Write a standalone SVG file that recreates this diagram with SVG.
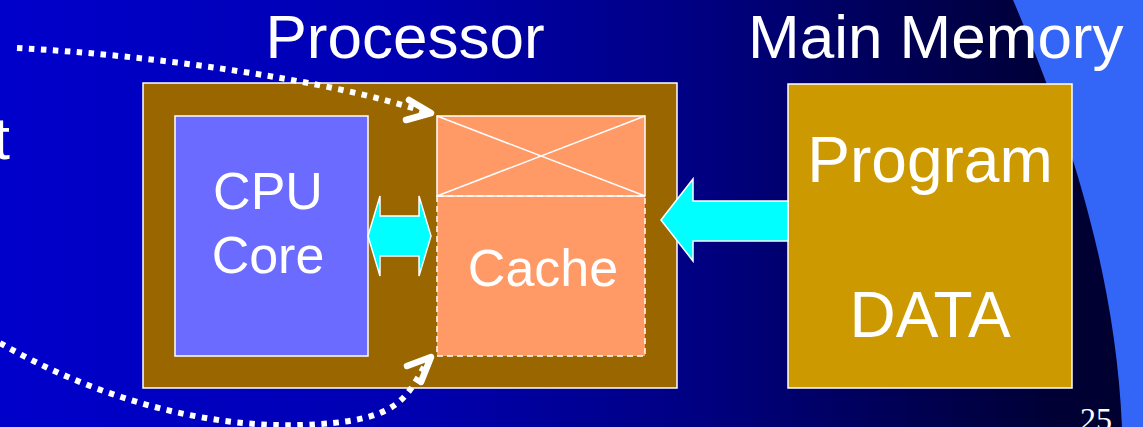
<svg xmlns="http://www.w3.org/2000/svg" width="1143" height="427" viewBox="0 0 1143 427">
  <defs>
    <linearGradient id="bg" x1="0" y1="0" x2="1143" y2="0" gradientUnits="userSpaceOnUse">
      <stop offset="0" stop-color="#0000cc"/>
      <stop offset="0.35" stop-color="#0000b2"/>
      <stop offset="0.62" stop-color="#000080"/>
      <stop offset="0.8" stop-color="#000052"/>
      <stop offset="0.92" stop-color="#000036"/>
      <stop offset="1" stop-color="#00002e"/>
    </linearGradient>
    <style>
      text { font-family: "Liberation Sans", Arial, sans-serif; fill: #ffffff; }
      .box { stroke: #ffffff; stroke-width: 1.5; }
      .dots { fill: none; stroke: #ffffff; stroke-width: 6; stroke-dasharray: 5.5 6.5; }
      .head { fill: none; stroke: #ffffff; stroke-width: 6.5; stroke-linecap: round; stroke-linejoin: round; }
      .flow { fill: #00ffff; stroke: #ffffff; stroke-width: 1.5; }
    </style>
  </defs>

  <rect x="0" y="0" width="1143" height="427" fill="url(#bg)"/>
  <path d="M1013,0 C1060,110 1115,260 1122,427 L1143,427 L1143,0 Z" fill="#3366f6"/>

  <text x="10" y="159" font-size="60" text-anchor="end">t</text>
  <text x="1080" y="430" font-size="32" style="font-family:'Liberation Serif','Times New Roman',serif">25</text>

  <g id="processor">
    <rect class="box" x="143" y="83" width="534" height="305" fill="#996600"/>
    <text x="405" y="58" font-size="62" text-anchor="middle">Processor</text>
  </g>

  <g id="cpu-core">
    <rect class="box" x="175" y="116" width="193" height="240" fill="#6b6bff"/>
    <text x="268" y="209" font-size="52" text-anchor="middle">CPU</text>
    <text x="268" y="273" font-size="52" text-anchor="middle">Core</text>
  </g>

  <g id="cache">
    <rect x="437" y="116" width="208" height="240" fill="#ff9966"/>
    <rect class="box" x="437" y="116" width="208" height="80" fill="none"/>
    <line x1="437" y1="116" x2="645" y2="196" stroke="#ffffff" stroke-width="1.5"/>
    <line x1="645" y1="116" x2="437" y2="196" stroke="#ffffff" stroke-width="1.5"/>
    <rect x="437" y="196" width="208" height="160" fill="none" stroke="#ffffff" stroke-width="1.5" stroke-dasharray="6 4"/>
    <text x="543" y="286" font-size="52" text-anchor="middle">Cache</text>
  </g>

  <g id="main-memory">
    <rect class="box" x="788" y="84" width="284" height="304" fill="#cc9900"/>
    <text x="748" y="58" font-size="62">Main Memory</text>
    <text x="930" y="182" font-size="64" text-anchor="middle">Program</text>
    <text x="930" y="337" font-size="64" text-anchor="middle">DATA</text>
  </g>

  <g id="connectors">
    <polygon class="flow" points="368,236 380,196 380,216 419,216 419,196 431,236 419,276 419,256 380,256 380,276"/>
    <polygon class="flow" points="661,220 693,179 693,201 788,201 788,241 693,241 693,261"/>
    <path class="dots" d="M17,48 C150,55 330,80 425,112"/>
    <polyline class="head" points="409,100 431,113 406,120"/>
    <path class="dots" d="M0,343 C90,395 200,428 300,425 S405,400 428,360"/>
    <polyline class="head" points="407,366 431,357 421,382"/>
  </g>
</svg>
